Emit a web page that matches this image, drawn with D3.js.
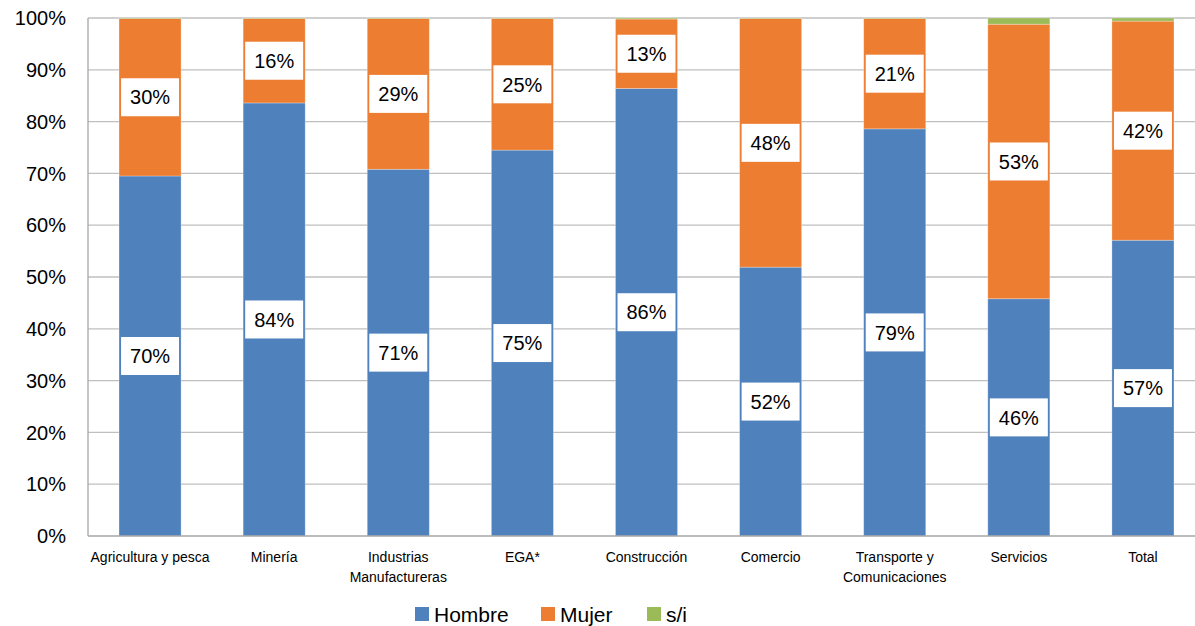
<!DOCTYPE html>
<html>
<head>
<meta charset="utf-8">
<script src="https://d3js.org/d3.v7.min.js"></script>
<style>
  body { margin: 0; background: #fff; }
  text { font-family: "Liberation Sans", Arial, sans-serif; }
</style>
</head>
<body>
<div id="chart"></div>
<script>
// categories and shares (fraction of each sector)
var categories = ["Agricultura y pesca", "Minería", "Industrias Manufactureras", "EGA*", "Construcción",
                  "Comercio", "Transporte y Comunicaciones", "Servicios", "Total"];
var catLines = [["Agricultura y pesca"], ["Minería"], ["Industrias", "Manufactureras"], ["EGA*"], ["Construcción"],
                ["Comercio"], ["Transporte y", "Comunicaciones"], ["Servicios"], ["Total"]];
var hombre = [0.695, 0.836, 0.708, 0.745, 0.864, 0.519, 0.786, 0.458, 0.571];
var mujer  = [0.304, 0.163, 0.291, 0.254, 0.134, 0.480, 0.213, 0.530, 0.423];
var si     = [0.001, 0.001, 0.001, 0.001, 0.002, 0.001, 0.001, 0.012, 0.006];
var seriesNames = ["Hombre", "Mujer", "s/i"];
var colors = ["#4f81bd", "#ed7d31", "#9bbb59"];
var yTicks = [0, 0.1, 0.2, 0.3, 0.4, 0.5, 0.6, 0.7, 0.8, 0.9, 1];

var W = 1195, H = 626;
var margin = {top: 18, right: -10, bottom: 90, left: 88};
var width = W - margin.left - margin.right;
var height = H - margin.top - margin.bottom;

var svg = d3.select("#chart").append("svg")
    .attr("width", W).attr("height", H);
var g = svg.append("g")
    .attr("transform", "translate(" + margin.left + "," + margin.top + ")");

var x = d3.scaleBand().domain(categories).range([0, width]).paddingInner(0.5).paddingOuter(0.25);
var y = d3.scaleLinear().domain([0, 1]).range([height, 0]);

// gridlines
g.selectAll(".grid").data(yTicks.slice(1)).enter().append("line")
    .attr("x1", 0).attr("x2", width)
    .attr("y1", d => y(d)).attr("y2", d => y(d))
    .attr("stroke", "#bfbfbf").attr("stroke-width", 1.3);

// y axis labels
g.selectAll(".ylab").data(yTicks).enter().append("text")
    .attr("x", -22).attr("y", d => y(d)).attr("dy", "0.36em")
    .attr("text-anchor", "end").style("font-size", "20px").attr("fill", "#000")
    .text(d3.format(".0%"));

// stack
var table = categories.map((c, i) => ({cat: c, Hombre: hombre[i], Mujer: mujer[i], "s/i": si[i]}));
var stacked = d3.stack().keys(seriesNames)(table);

g.selectAll(".series").data(stacked).enter().append("g")
    .attr("fill", (d, i) => colors[i])
    .selectAll("rect").data(d => d).enter().append("rect")
    .attr("x", d => x(d.data.cat))
    .attr("width", x.bandwidth())
    .attr("y", d => y(d[1]))
    .attr("height", d => y(d[0]) - y(d[1]))
    .attr("stroke", "#fff").attr("stroke-opacity", 0.35).attr("stroke-width", 0.8);

// axis lines
g.append("line").attr("x1", 0).attr("x2", 0).attr("y1", 0).attr("y2", height)
    .attr("stroke", "#a6a6a6").attr("stroke-width", 1.3);
g.append("line").attr("x1", 0).attr("x2", width).attr("y1", height).attr("y2", height)
    .attr("stroke", "#a6a6a6").attr("stroke-width", 1.3);

// data labels for Hombre and Mujer
stacked.slice(0, 2).forEach(function(s) {
  var lab = g.selectAll(null).data(s).enter().append("g")
      .attr("transform", d => "translate(" + (x(d.data.cat) + x.bandwidth() / 2) + "," + y((d[0] + d[1]) / 2) + ")");
  lab.append("rect").attr("x", -29).attr("y", -19).attr("width", 58).attr("height", 38).attr("fill", "#fff");
  lab.append("text").attr("text-anchor", "middle").attr("dy", "0.36em")
      .style("font-size", "20px").attr("fill", "#000")
      .text(d => d3.format(".0%")(d[1] - d[0]));
});

// x labels
var xl = g.selectAll(".xlab").data(categories).enter().append("text")
    .attr("x", d => x(d) + x.bandwidth() / 2)
    .attr("y", height + 26)
    .attr("text-anchor", "middle").style("font-size", "14px").attr("fill", "#000");
xl.selectAll("tspan").data((d, i) => catLines[i]).enter().append("tspan")
    .attr("x", function() { return this.parentNode.getAttribute("x"); })
    .attr("dy", (d, i) => i === 0 ? 0 : "1.4em")
    .text(d => d);

// legend
var legendX = [415, 541, 647];
var leg = svg.selectAll(".leg").data(seriesNames).enter().append("g")
    .attr("transform", (d, i) => "translate(" + legendX[i] + ",614)");
leg.append("rect").attr("x", 0).attr("y", -7).attr("width", 14).attr("height", 14)
    .attr("fill", (d, i) => colors[i]);
leg.append("text").attr("x", 19).attr("dy", "0.36em").style("font-size", "21px")
    .attr("fill", "#000").text(d => d);
</script>
</body>
</html>
